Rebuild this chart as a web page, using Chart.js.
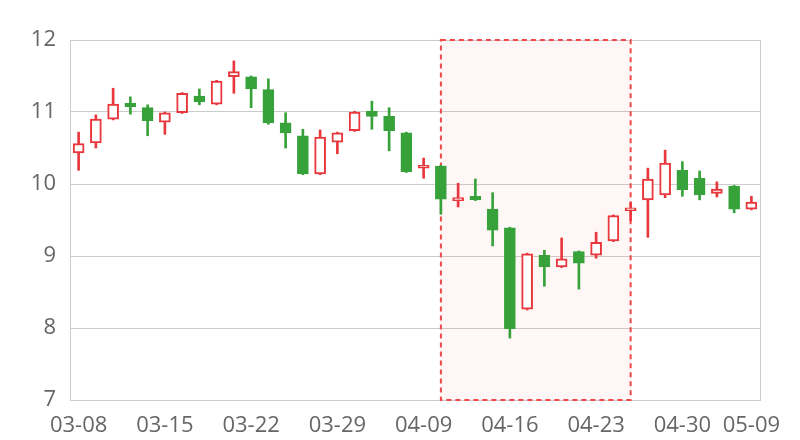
<!DOCTYPE html>
<html>
<head>
<meta charset="utf-8">
<script src="https://cdn.jsdelivr.net/npm/chart.js@4/dist/chart.umd.min.js"></script>
<style>
  html, body { margin: 0; padding: 0; background: #ffffff; }
  #wrap { width: 800px; height: 440px; }
</style>
</head>
<body>
<div id="wrap"><canvas id="kChart" width="800" height="440"></canvas></div>
<script>
// trading days
const dates = ['03-08', '03-09', '03-10', '03-11', '03-12',
    '03-15', '03-16', '03-17', '03-18', '03-19',
    '03-22', '03-23', '03-24', '03-25', '03-26',
    '03-29', '03-30', '03-31', '04-01', '04-02',
    '04-09', '04-12', '04-13', '04-14', '04-15',
    '04-16', '04-19', '04-20', '04-21', '04-22',
    '04-23', '04-26', '04-27', '04-28', '04-29',
    '04-30', '05-06', '05-07', '05-08', '05-09'];

const openPrices = [10.43, 10.57, 10.90, 11.12, 11.06, 10.86, 10.99, 11.22, 11.11, 11.49,
    11.49, 11.31, 10.85, 10.67, 10.14, 10.58, 10.74, 11.01, 10.94, 10.71,
    10.22, 10.25, 9.77, 9.83, 9.65, 9.39, 8.26, 9.01, 8.85, 9.06,
    9.01, 9.21, 9.63, 9.78, 9.85, 10.19, 10.08, 9.87, 9.97, 9.65];
const closePrices = [10.56, 10.90, 11.11, 11.07, 10.88, 10.99, 11.26, 11.14, 11.43, 11.56,
    11.32, 10.85, 10.71, 10.14, 10.65, 10.71, 11.00, 10.94, 10.74, 10.17,
    10.26, 9.79, 9.81, 9.78, 9.36, 7.99, 9.03, 8.85, 8.96, 8.90,
    9.19, 9.56, 9.67, 10.07, 10.29, 9.92, 9.85, 9.93, 9.65, 9.75];
const highPrices = [10.72, 10.96, 11.33, 11.21, 11.10, 11.00, 11.27, 11.32, 11.44, 11.71,
    11.50, 11.46, 10.99, 10.76, 10.75, 10.72, 11.01, 11.15, 11.06, 10.72,
    10.36, 10.26, 10.01, 10.07, 9.88, 9.40, 9.04, 9.08, 9.25, 9.07,
    9.33, 9.57, 9.74, 10.22, 10.47, 10.31, 10.18, 10.03, 9.98, 9.83];
const lowPrices = [10.19, 10.50, 10.89, 10.97, 10.67, 10.69, 10.98, 11.10, 11.10, 11.26,
    11.06, 10.83, 10.50, 10.13, 10.13, 10.42, 10.73, 10.76, 10.46, 10.16,
    10.08, 9.58, 9.68, 9.77, 9.14, 7.86, 8.25, 8.58, 8.84, 8.54,
    8.97, 9.20, 9.49, 9.26, 9.81, 9.83, 9.78, 9.82, 9.60, 9.64];

// highlighted range (first and last day)
const markRange = ['04-12', '04-27'];
const yTicks = [7, 8, 9, 10, 11, 12];

const upColor = '#e8383d';
const downColor = '#37a23a';
const rising = openPrices.map((o, i) => closePrices[i] > o);

const markAreaPlugin = {
    id: 'markArea',
    beforeDatasetsDraw(chart) {
        const {ctx, chartArea, scales} = chart;
        const x1 = scales.x.getPixelForValue(dates.indexOf(markRange[0]));
        const x2 = scales.x.getPixelForValue(dates.indexOf(markRange[1]));
        const y1 = scales.y.getPixelForValue(yTicks[yTicks.length - 1]);
        const y2 = scales.y.getPixelForValue(yTicks[0]);
        ctx.save();
        // right frame line
        ctx.strokeStyle = '#cccccc';
        ctx.lineWidth = 1;
        ctx.beginPath();
        ctx.moveTo(Math.round(chartArea.right) + 0.5, chartArea.top);
        ctx.lineTo(Math.round(chartArea.right) + 0.5, chartArea.bottom);
        ctx.stroke();

        ctx.fillStyle = 'rgba(255, 80, 80, 0.05)';
        ctx.fillRect(x1, y1, x2 - x1, y2 - y1);
        ctx.strokeStyle = '#f04848';
        ctx.lineWidth = 2;
        ctx.setLineDash([5, 4]);
        ctx.strokeRect(x1, y1, x2 - x1, y2 - y1);
        ctx.restore();
    }
};

Chart.defaults.font.family = '"Open Sans", "Noto Sans", sans-serif';
Chart.defaults.font.size = 22;
Chart.defaults.color = '#666666';

const ctx = document.getElementById('kChart').getContext('2d');
new Chart(ctx, {
    type: 'bar',
    data: {
        labels: dates,
        datasets: [{
            // candle bodies
            label: 'body',
            data: openPrices.map((o, i) => [o, closePrices[i]]),
            backgroundColor: rising.map(r => r ? '#ffffff' : downColor),
            borderColor: rising.map(r => r ? upColor : downColor),
            borderWidth: rising.map(r => r ? 2 : 1),
            borderSkipped: false,
            barThickness: 11,
            grouped: false
        }, {
            // wicks
            label: 'wick',
            data: lowPrices.map((l, i) => [l, highPrices[i]]),
            backgroundColor: rising.map(r => r ? upColor : downColor),
            borderWidth: 0,
            barThickness: 2,
            grouped: false
        }]
    },
    options: {
        responsive: false,
        animation: false,
        layout: {
            padding: {top: 40, right: 40, left: 0, bottom: 0}
        },
        plugins: {
            legend: {display: false},
            tooltip: {enabled: false}
        },
        scales: {
            x: {
                offset: true,
                grid: {display: false, drawTicks: false},
                border: {display: true, color: '#cccccc'},
                ticks: {
                    autoSkip: false,
                    maxRotation: 0,
                    padding: 13,
                    callback: function(value, index) {
                        return (index % 5 === 0 || index === dates.length - 1) ? dates[index] : '';
                    }
                },
                afterFit: function(scale) { scale.height = 40; }
            },
            y: {
                min: yTicks[0],
                max: yTicks[yTicks.length - 1],
                grid: {color: '#cccccc', drawTicks: false},
                border: {display: true, color: '#cccccc'},
                ticks: {
                    stepSize: 1,
                    padding: 14
                },
                afterFit: function(scale) { scale.width = 70; }
            }
        }
    },
    plugins: [markAreaPlugin]
});
</script>
</body>
</html>
